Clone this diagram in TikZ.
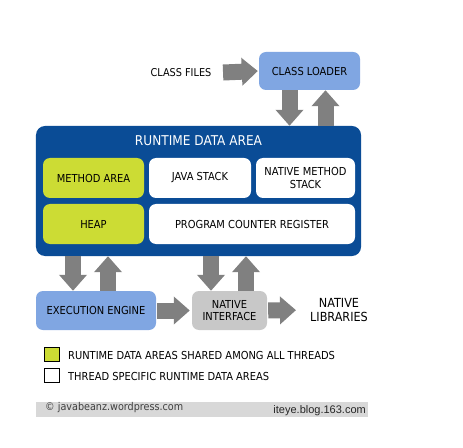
\documentclass[tikz,border=0pt]{standalone}
\usepackage{fontspec}
\setmainfont{DejaVu Sans Condensed}
\newfontfamily\arialfont{Liberation Sans}
\usepackage{xcolor}
\usetikzlibrary{arrows.meta,positioning,calc}

\definecolor{rdablue}{RGB}{10,76,150}
\definecolor{boxblue}{RGB}{128,166,226}
\definecolor{limegreen}{RGB}{204,220,52}
\definecolor{arrowgray}{RGB}{128,128,128}
\definecolor{nativegray}{RGB}{200,200,200}
\definecolor{footgray}{RGB}{216,216,216}

\tikzset{
  box/.style={rectangle, rounded corners=7bp, align=center, inner sep=0pt, font=\fontsize{11bp}{12.5bp}\selectfont},
  shared/.style={box, fill=limegreen},
  local/.style={box, fill=white},
  blk/.style={draw=arrowgray, line width=16bp, -{Triangle[width=27bp,length=16bp]}},
  legendbox/.style={rectangle, draw=black, line width=0.6bp, minimum width=15bp, minimum height=14bp, inner sep=0pt},
  legendtext/.style={anchor=west, inner sep=0pt, font=\fontsize{11bp}{12bp}\selectfont}
}

\begin{document}
\begin{tikzpicture}[x=1bp, y=-1bp]
\useasboundingbox[fill=white] (0,0) rectangle (463,448);

% class loader
\node[box, fill=boxblue, minimum width=101bp, minimum height=38bp] (Loader) at (309.5,71) {CLASS LOADER};
\node[font=\fontsize{10.8bp}{12bp}\selectfont, inner sep=0pt] (Files) at (181,73) {CLASS FILES};

% runtime data area
\node[box, rounded corners=9bp, fill=rdablue, minimum width=325bp, minimum height=130bp] (RDA) at (198.5,191) {};
\node[text=white, font=\fontsize{13.5bp}{15bp}\selectfont] (Title) at (198.5,141) {RUNTIME DATA AREA};
\node[shared, minimum width=101bp, minimum height=40bp] (Method) at (93.5,178) {METHOD AREA};
\node[local, minimum width=102bp, minimum height=40bp] (JStack) at (200,178) {JAVA STACK};
\node[local, minimum width=99bp, minimum height=40bp] (NStack) at (305.5,178) {NATIVE METHOD\\STACK};
\node[shared, minimum width=101bp, minimum height=40bp] (Heap) at (93.5,224) {HEAP};
\node[local, minimum width=206bp, minimum height=40bp] (PCR) at (252,224) {PROGRAM COUNTER REGISTER};

% engine and native side
\node[box, fill=boxblue, minimum width=120bp, minimum height=39bp] (Engine) at (96,310.5) {EXECUTION ENGINE};
\node[box, fill=nativegray, minimum width=75bp, minimum height=39bp] (Native) at (229.5,310.5) {NATIVE\\INTERFACE};
\node[align=center, inner sep=0pt, font=\fontsize{12.5bp}{14bp}\selectfont] (Libs) at (339,310) {NATIVE\\LIBRARIES};

% block arrows
\draw[blk, shorten <=11.5bp, shorten >=1bp] (Files.east) -- (Loader.west);
\draw[blk] ([xshift=-20bp]Loader.south) -- ([xshift=-20bp]Loader.south |- RDA.north);
\draw[blk] ([xshift=16bp]Loader.south |- RDA.north) -- ([xshift=16bp]Loader.south);
\draw[blk] ([xshift=-23bp]Engine.north |- RDA.south) -- ([xshift=-23bp]Engine.north);
\draw[blk] ([xshift=12bp]Engine.north) -- ([xshift=12bp]Engine.north |- RDA.south);
\draw[blk] ([xshift=-18.5bp]Native.north |- RDA.south) -- ([xshift=-18.5bp]Native.north);
\draw[blk] ([xshift=16.5bp]Native.north) -- ([xshift=16.5bp]Native.north |- RDA.south);
\draw[blk, shorten <=1bp, shorten >=2bp] (Engine.east) -- (Native.west);
\draw[blk, shorten <=1bp, shorten >=14bp] (Native.east) -- (Libs.west);

% legend
\node[legendbox, fill=limegreen] (KeyShared) at (52,354.5) {};
\node[legendbox, fill=white] (KeyLocal) at (52,375.5) {};
\node[legendtext] (TxtShared) at (68,355) {RUNTIME DATA AREAS SHARED AMONG ALL THREADS};
\node[legendtext] (TxtLocal) at (68,376) {THREAD SPECIFIC RUNTIME DATA AREAS};

% footer
\fill[footgray] (36,402) rectangle (368,417);
\node[anchor=west, inner sep=0pt, text=black!75, font=\fontsize{10.7bp}{12bp}\selectfont] (Copy) at (45,407.5) {\textcopyright{} javabeanz.wordpress.com};
\node[anchor=east, inner sep=0pt, text=black!85, font=\arialfont\fontsize{11bp}{12bp}\selectfont] (Blog) at (366,411) {iteye.blog.163.com};
\end{tikzpicture}
\end{document}
